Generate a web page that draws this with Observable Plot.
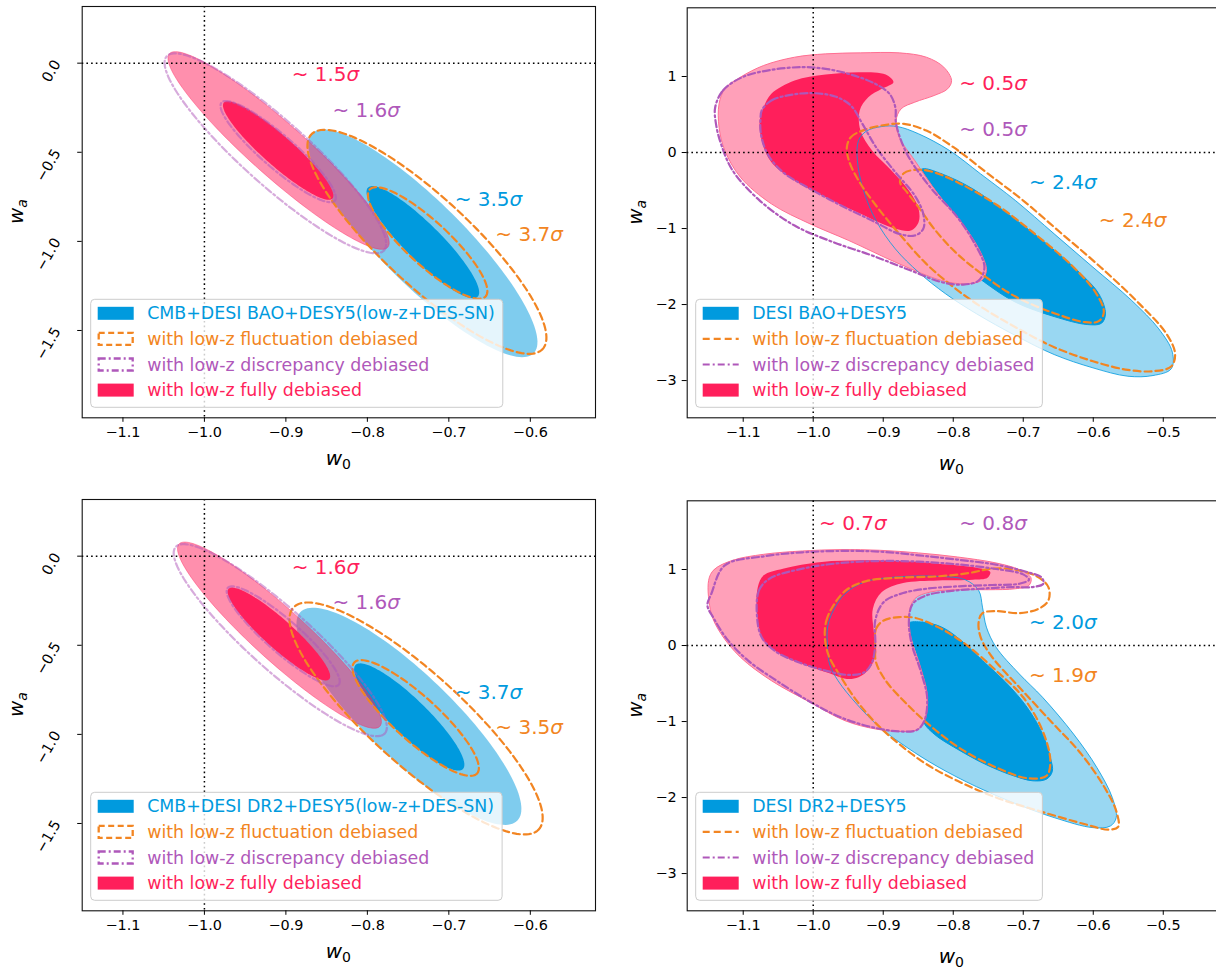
<!DOCTYPE html>
<html>
<head>
<meta charset="utf-8">
<script src="https://cdn.jsdelivr.net/npm/d3@7"></script>
<script src="https://cdn.jsdelivr.net/npm/@observablehq/plot@0.6"></script>
<style>
html,body{margin:0;padding:0;background:#fff;}
body{width:1216px;height:969px;overflow:hidden;position:relative;font-family:"DejaVu Sans",sans-serif;}
.panel{position:absolute;width:610px;}
.panel svg{display:block;max-width:none !important;}
</style>
</head>
<body>
<div id="p1" class="panel" style="left:0px;top:0px"></div>
<div id="p2" class="panel" style="left:608px;top:0px"></div>
<div id="p3" class="panel" style="left:0px;top:493.3px"></div>
<div id="p4" class="panel" style="left:608px;top:493.3px"></div>
<script>
// ---------------- DATA ----------------
const X_TICKS_A = [-1.1, -1.0, -0.9, -0.8, -0.7, -0.6];
const Y_TICKS_A = [0.0, -0.5, -1.0, -1.5];
const X_TICKS_B = [-1.1, -1.0, -0.9, -0.8, -0.7, -0.6, -0.5];
const Y_TICKS_B = [1, 0, -1, -2, -3];
const X_DOMAIN_A = [-1.15, -0.52];
const Y_DOMAIN_A = [-1.99, 0.318];
const X_DOMAIN_B = [-1.18, -0.4211];
const Y_DOMAIN_B = [-3.49, 1.904];

const LEGEND_TITLES = ["CMB+DESI BAO+DESY5(low-z+DES-SN)", "DESI BAO+DESY5", "CMB+DESI DR2+DESY5(low-z+DES-SN)", "DESI DR2+DESY5"];
const LEGEND_ROWS = ["with low-z fluctuation debiased", "with low-z discrepancy debiased", "with low-z fully debiased"];

// Gaussian-like ellipse contours: [center w0, center wa, semi-diameter A (w0, wa), conjugate semi-diameter B (w0, wa)]
const P1_ELLIPSES = {
  blueOuter:   [-0.7319, -1.0108, 0.1343, -0.6237, 0.0418, 0.1389],
  blueInner:   [-0.7319, -1.0043, 0.0667, -0.3086, 0.0181, 0.0606],
  orangeOuter: [-0.7269, -1.0024, 0.1402, -0.6097, 0.0431, 0.1530],
  orangeInner: [-0.7260, -1.0090, 0.0702, -0.3039, 0.0211, 0.0754],
  purpleOuter: [-0.9129, -0.5059, 0.1324, -0.5489, 0.0311, 0.1158],
  purpleInner: [-0.9095, -0.4965, 0.0690, -0.2777, 0.0157, 0.0600],
  pinkOuter:   [-0.9090, -0.4900, 0.1333, -0.5461, 0.0258, 0.0971],
  pinkInner:   [-0.9095, -0.4900, 0.0662, -0.2712, 0.0144, 0.0544]
};
const P3_ELLIPSES = {
  blueOuter:   [-0.7490, -0.8986, 0.1314, -0.5919, 0.0423, 0.1449],
  blueInner:   [-0.7486, -0.9024, 0.0652, -0.2946, 0.0180, 0.0613],
  orangeOuter: [-0.7402, -0.9108, 0.1488, -0.6303, 0.0447, 0.1627],
  orangeInner: [-0.7407, -0.9080, 0.0745, -0.3151, 0.0216, 0.0789],
  purpleOuter: [-0.9069, -0.4713, 0.1274, -0.5274, 0.0297, 0.1107],
  purpleInner: [-0.9033, -0.4498, 0.0676, -0.2740, 0.0157, 0.0598],
  pinkOuter:   [-0.9079, -0.4432, 0.1226, -0.5143, 0.0250, 0.0920],
  pinkInner:   [-0.9086, -0.4367, 0.0614, -0.2553, 0.0139, 0.0514]
};

// Irregular contours, outline vertices [w0, wa]
const P2_PINK_OUTER = [[-1.1345,0.640],[-1.1262,0.838],[-1.104,0.991],[-1.0708,1.145],[-1.0266,1.254],[-0.9823,1.298],[-0.9325,1.311],[-0.8771,1.311],[-0.8384,1.254],[-0.8135,1.123],[-0.8024,0.947],[-0.808,0.838],[-0.8273,0.750],[-0.855,0.662],[-0.8744,0.575],[-0.8816,0.421],[-0.8771,0.202],[-0.855,-0.105],[-0.8218,-0.544],[-0.7831,-0.982],[-0.7598,-1.333],[-0.7526,-1.553],[-0.7598,-1.684],[-0.7831,-1.728],[-0.8163,-1.684],[-0.8771,-1.465],[-0.9491,-1.158],[-1.0044,-0.939],[-1.0598,-0.675],[-1.104,-0.325],[-1.1262,0.026],[-1.1345,0.333]];
const P2_PINK_INNER = [[-1.0708,0.596],[-1.0598,0.772],[-1.0266,0.947],[-0.9823,1.026],[-0.9325,1.057],[-0.8965,1.026],[-0.8854,0.925],[-0.902,0.838],[-0.9214,0.728],[-0.9336,0.553],[-0.9325,0.289],[-0.9159,0.026],[-0.8882,-0.237],[-0.8633,-0.500],[-0.8495,-0.741],[-0.8495,-0.917],[-0.8605,-1.026],[-0.8827,-1.004],[-0.9325,-0.807],[-0.9823,-0.588],[-1.0266,-0.368],[-1.0598,-0.127],[-1.0736,0.158],[-1.0764,0.421]];
const P2_PURPLE_OUTER = [[-1.14,0.596],[-1.1289,0.816],[-1.1013,0.991],[-1.0598,1.088],[-1.0155,1.123],[-0.9823,1.101],[-0.9463,1.026],[-0.9131,0.912],[-0.891,0.772],[-0.8827,0.596],[-0.8816,0.377],[-0.8661,-0.018],[-0.8329,-0.456],[-0.7941,-0.851],[-0.7692,-1.202],[-0.7554,-1.509],[-0.7637,-1.684],[-0.7858,-1.737],[-0.8163,-1.706],[-0.8605,-1.553],[-0.9159,-1.355],[-0.9712,-1.180],[-1.0266,-0.961],[-1.0764,-0.632],[-1.1151,-0.237],[-1.1317,0.114],[-1.1389,0.377]];
const P2_PURPLE_INNER = [[-1.0736,0.553],[-1.0598,0.684],[-1.0321,0.759],[-1.0,0.781],[-0.9685,0.737],[-0.9463,0.618],[-0.9297,0.377],[-0.9103,0.070],[-0.8827,-0.259],[-0.855,-0.566],[-0.8428,-0.807],[-0.8428,-1.004],[-0.855,-1.092],[-0.8771,-1.070],[-0.9159,-0.895],[-0.9602,-0.697],[-1.0044,-0.478],[-1.0432,-0.259],[-1.0653,-0.018],[-1.0747,0.246],[-1.0753,0.443]];
const P2_BLUE_OUTER = [[-0.9353,0.158],[-0.9242,0.281],[-0.902,0.342],[-0.8799,0.342],[-0.8495,0.246],[-0.8052,0.026],[-0.7609,-0.281],[-0.7111,-0.632],[-0.6558,-1.070],[-0.6004,-1.509],[-0.5451,-1.947],[-0.5064,-2.320],[-0.487,-2.627],[-0.4887,-2.846],[-0.5147,-2.934],[-0.5506,-2.943],[-0.6004,-2.833],[-0.6558,-2.658],[-0.7111,-2.408],[-0.7665,-2.123],[-0.8107,-1.860],[-0.8495,-1.575],[-0.8827,-1.268],[-0.9103,-0.895],[-0.9281,-0.500],[-0.9369,-0.105]];
const P2_BLUE_INNER = [[-0.8439,-0.215],[-0.8163,-0.281],[-0.772,-0.478],[-0.7222,-0.807],[-0.6724,-1.158],[-0.6226,-1.553],[-0.592,-1.860],[-0.5826,-2.123],[-0.5882,-2.246],[-0.6087,-2.263],[-0.6558,-2.158],[-0.7111,-1.969],[-0.7554,-1.706],[-0.7941,-1.421],[-0.8218,-1.136],[-0.8412,-0.807],[-0.8495,-0.500],[-0.8506,-0.281]];
const P2_ORANGE_OUTER = [[-0.9519,0.070],[-0.9463,0.202],[-0.927,0.298],[-0.8937,0.368],[-0.8705,0.377],[-0.8384,0.289],[-0.7997,0.070],[-0.7499,-0.281],[-0.7001,-0.632],[-0.6447,-1.070],[-0.5894,-1.509],[-0.534,-1.991],[-0.4953,-2.386],[-0.4831,-2.649],[-0.4887,-2.816],[-0.5147,-2.877],[-0.5506,-2.860],[-0.6004,-2.746],[-0.6558,-2.561],[-0.7111,-2.298],[-0.7609,-2.026],[-0.8024,-1.750],[-0.8384,-1.465],[-0.8771,-1.070],[-0.9103,-0.697],[-0.9353,-0.368],[-0.9491,-0.105]];
const P2_ORANGE_INNER = [[-0.876,-0.390],[-0.8705,-0.272],[-0.855,-0.228],[-0.8329,-0.246],[-0.7941,-0.390],[-0.7388,-0.684],[-0.6835,-1.070],[-0.6281,-1.509],[-0.596,-1.851],[-0.5849,-2.101],[-0.5921,-2.219],[-0.6115,-2.232],[-0.6558,-2.114],[-0.7111,-1.895],[-0.7582,-1.605],[-0.7969,-1.311],[-0.8273,-1.004],[-0.8495,-0.719],[-0.8661,-0.522]];

const P4_PINK_OUTER = [[-1.1494,0.857],[-1.1417,0.998],[-1.1151,1.121],[-1.0708,1.200],[-1.0155,1.244],[-0.9602,1.262],[-0.9048,1.253],[-0.8495,1.218],[-0.7941,1.165],[-0.7388,1.086],[-0.7056,0.998],[-0.689,0.892],[-0.6918,0.791],[-0.7111,0.747],[-0.7499,0.734],[-0.7941,0.734],[-0.8329,0.703],[-0.855,0.615],[-0.8633,0.418],[-0.8605,0.110],[-0.8467,-0.286],[-0.8373,-0.637],[-0.8395,-0.945],[-0.8495,-1.099],[-0.8716,-1.130],[-0.9103,-1.099],[-0.9546,-0.989],[-1.0044,-0.747],[-1.0598,-0.462],[-1.104,-0.154],[-1.1317,0.154],[-1.1455,0.418]];
const P4_PINK_INNER = [[-1.0802,0.418],[-1.0791,0.769],[-1.0708,0.923],[-1.0432,1.011],[-0.9878,1.099],[-0.9325,1.121],[-0.8771,1.112],[-0.8218,1.077],[-0.7665,1.024],[-0.7471,0.967],[-0.751,0.892],[-0.772,0.866],[-0.8218,0.857],[-0.8716,0.822],[-0.902,0.703],[-0.9148,0.484],[-0.9131,0.154],[-0.9103,-0.110],[-0.9203,-0.308],[-0.9353,-0.418],[-0.9519,-0.440],[-0.9768,-0.365],[-1.01,-0.264],[-1.0432,-0.132],[-1.0708,0.066]];
const P4_PURPLE_OUTER = [[-1.1511,0.527],[-1.1455,0.681],[-1.1262,1.055],[-1.0708,1.174],[-1.0155,1.226],[-0.9602,1.244],[-0.9048,1.235],[-0.8495,1.187],[-0.7941,1.130],[-0.7388,1.064],[-0.6945,0.967],[-0.6735,0.892],[-0.6713,0.813],[-0.6862,0.769],[-0.7167,0.769],[-0.7609,0.747],[-0.8052,0.716],[-0.8384,0.659],[-0.8578,0.549],[-0.8633,0.330],[-0.8594,0.022],[-0.8467,-0.330],[-0.8373,-0.681],[-0.8412,-0.989],[-0.8522,-1.112],[-0.8771,-1.130],[-0.9103,-1.086],[-0.9546,-0.967],[-0.9989,-0.769],[-1.0487,-0.484],[-1.093,-0.198],[-1.1234,0.088],[-1.1417,0.352]];
const P4_PURPLE_INNER = [[-1.0802,0.374],[-1.0775,0.725],[-1.0625,0.879],[-1.0155,1.011],[-0.9602,1.086],[-0.9048,1.112],[-0.8495,1.103],[-0.7941,1.068],[-0.7388,1.007],[-0.7001,0.936],[-0.6918,0.866],[-0.7056,0.813],[-0.7444,0.796],[-0.7941,0.778],[-0.8384,0.747],[-0.8716,0.690],[-0.8993,0.571],[-0.9114,0.330],[-0.9114,0.022],[-0.9159,-0.220],[-0.9270,-0.352],[-0.9491,-0.387],[-0.9823,-0.330],[-1.0210,-0.220],[-1.0542,-0.075],[-1.0736,0.110]];
const P4_BLUE_OUTER = [[-0.9795,-0.022],[-0.9795,0.242],[-0.9712,0.462],[-0.9546,0.681],[-0.9270,0.835],[-0.8827,0.901],[-0.8218,0.910],[-0.7831,0.866],[-0.7637,0.725],[-0.7582,0.505],[-0.7526,0.242],[-0.7388,-0.022],[-0.7056,-0.374],[-0.6724,-0.681],[-0.6281,-1.165],[-0.5949,-1.604],[-0.5728,-2.000],[-0.5672,-2.264],[-0.5755,-2.374],[-0.6004,-2.396],[-0.6558,-2.264],[-0.7111,-2.079],[-0.7665,-1.859],[-0.8218,-1.596],[-0.8661,-1.341],[-0.9048,-1.077],[-0.9380,-0.769],[-0.9646,-0.462],[-0.9768,-0.242]];
const P4_BLUE_INNER = [[-0.8633,0.295],[-0.8439,0.308],[-0.8163,0.242],[-0.7886,0.066],[-0.7582,-0.198],[-0.7250,-0.484],[-0.6945,-0.813],[-0.6724,-1.165],[-0.6613,-1.473],[-0.6585,-1.657],[-0.6668,-1.758],[-0.6862,-1.780],[-0.7139,-1.714],[-0.7526,-1.569],[-0.7941,-1.363],[-0.8273,-1.165],[-0.8428,-0.989],[-0.8384,-0.725],[-0.8439,-0.374],[-0.8550,-0.022],[-0.8627,0.198]];
const P4_ORANGE_OUTER = [[-0.9834,0.110],[-0.9812,0.330],[-0.9712,0.527],[-0.9535,0.725],[-0.9242,0.848],[-0.8771,0.892],[-0.8218,0.910],[-0.7775,0.954],[-0.7443,1.011],[-0.7111,0.998],[-0.6807,0.910],[-0.6641,0.769],[-0.6641,0.593],[-0.6779,0.484],[-0.7056,0.426],[-0.7388,0.453],[-0.7582,0.426],[-0.7637,0.308],[-0.7609,0.110],[-0.7443,-0.154],[-0.7056,-0.549],[-0.6613,-0.989],[-0.6170,-1.429],[-0.5838,-1.868],[-0.5672,-2.176],[-0.5645,-2.387],[-0.5783,-2.422],[-0.6115,-2.352],[-0.6779,-2.176],[-0.7388,-2.000],[-0.7941,-1.780],[-0.8384,-1.560],[-0.8771,-1.297],[-0.9103,-1.024],[-0.9380,-0.725],[-0.9602,-0.418],[-0.9779,-0.132]];
const P4_ORANGE_INNER = [[-0.9115,-0.022],[-0.9103,0.220],[-0.8993,0.330],[-0.8771,0.374],[-0.855,0.365],[-0.8218,0.242],[-0.7831,0.022],[-0.7388,-0.330],[-0.7001,-0.681],[-0.6724,-1.121],[-0.6613,-1.516],[-0.6668,-1.714],[-0.6945,-1.745],[-0.7388,-1.604],[-0.7886,-1.363],[-0.8329,-1.055],[-0.8688,-0.747],[-0.8965,-0.462],[-0.9103,-0.220]];

// annotations: [text, w0, wa, series]
const P1_NOTES = [["~ 1.5σ", -0.8929, -0.0636, "pink"], ["~ 1.6σ", -0.8429, -0.2656, "purple"], ["~ 3.5σ", -0.6929, -0.7668, "blue"], ["~ 3.7σ", -0.6429, -0.9632, "orange"]];
const P2_NOTES = [["~ 0.5σ", -0.7914, 0.9035, "pink"], ["~ 0.5σ", -0.7914, 0.3026, "purple"], ["~ 2.4σ", -0.6918, -0.3904, "blue"], ["~ 2.4σ", -0.5921, -0.8947, "orange"]];
const P3_NOTES = [["~ 1.6σ", -0.8929, -0.0636, "pink"], ["~ 1.6σ", -0.8429, -0.2618, "purple"], ["~ 3.7σ", -0.6929, -0.7630, "blue"], ["~ 3.5σ", -0.6429, -0.9613, "orange"]];
const P4_NOTES = [["~ 0.7σ", -0.9917, 1.6044, "pink"], ["~ 0.8σ", -0.7914, 1.6044, "purple"], ["~ 2.0σ", -0.6918, 0.3077, "blue"], ["~ 1.9σ", -0.6918, -0.3956, "orange"]];

// ---------------- STYLE / LAYOUT ----------------
const C = {blue: "#009ADE", orange: "#F28522", purple: "#AF58BA", pink: "#FF1F5B"};
const FONT = "DejaVu Sans";
const TICK_FS = 14.4;
const fmt1 = d3.format(".1f"), fmtInt = d3.format("d");
const LAYOUT_A = {width: 608, height: 480, marginLeft: 81.7, marginRight: 13, marginTop: 6, marginBottom: 62.7};
const LAYOUT_B = {width: 610, height: 480, marginLeft: 78.7, marginRight: 0, marginTop: 7.3, marginBottom: 62.7};

function ellipsePts(e, n = 140) {
  const [cx, cy, ax, ay, bx, by] = e;
  return d3.range(n).map(i => {
    const t = 2 * Math.PI * i / n;
    return {x: cx + ax * Math.cos(t) + bx * Math.sin(t), y: cy + ay * Math.cos(t) + by * Math.sin(t)};
  });
}
const polyPts = p => p.map(([x, y]) => ({x, y}));

function contourMarks(s, kind) {
  const curve = kind === "A" ? "linear-closed" : "catmull-rom-closed";
  const L = (pts, o) => Plot.line(pts, {x: "x", y: "y", curve, ...o});
  const dash = {fill: "none", stroke: C.orange, strokeWidth: 2.2, strokeDasharray: "7,4"};
  const dd = {fill: "none", stroke: C.purple, strokeWidth: 2.2, strokeDasharray: "7,3,2,3"};
  if (kind === "A") {
    return [
      L(s.blueOuter, {fill: C.blue, fillOpacity: 0.5, stroke: "none"}),
      L(s.blueInner, {fill: C.blue, stroke: "none"}),
      L(s.pinkOuter, {fill: C.pink, fillOpacity: 0.5, stroke: C.pink, strokeOpacity: 0.4, strokeWidth: 1}),
      L(s.pinkInner, {fill: C.pink, stroke: "none"}),
      L(s.orangeOuter, dash), L(s.orangeInner, dash),
      L(s.purpleOuter, {...dd, strokeOpacity: 0.5}), L(s.purpleInner, {...dd, strokeOpacity: 0.55})
    ];
  }
  return [
    L(s.blueOuter, {fill: C.blue, fillOpacity: 0.4, stroke: "none"}),
    L(s.blueInner, {fill: C.blue, stroke: C.blue, strokeWidth: 1}),
    L(s.pinkOuter, {fill: "#FFA0B9", stroke: "#FF6F92", strokeWidth: 1}),
    L(s.pinkInner, {fill: C.pink, stroke: "none"}),
    L(s.blueOuter, {fill: "none", stroke: C.blue, strokeOpacity: 0.8, strokeWidth: 1}),
    L(s.orangeOuter, dash), L(s.orangeInner, dash),
    L(s.purpleOuter, dd), L(s.purpleInner, dd)
  ];
}

function render(id, kind, set, notes, title) {
  const lay = kind === "A" ? LAYOUT_A : LAYOUT_B;
  const xTicks = kind === "A" ? X_TICKS_A : X_TICKS_B;
  const marks = [
    ...contourMarks(set, kind),
    Plot.ruleX([-1], {stroke: "black", strokeWidth: 1.5, strokeDasharray: "1.6,3.1"}),
    Plot.ruleY([0], {stroke: "black", strokeWidth: 1.5, strokeDasharray: "1.6,3.1"}),
    ...notes.map(n => Plot.text([n], {x: d => d[1], y: d => d[2], text: d => d[0], fill: C[n[3]], fontSize: 20, textAnchor: "start"})),
    Plot.frame({stroke: "#111", strokeWidth: 1.1}),
    Plot.axisX({ticks: xTicks, tickSize: 4.5, tickFormat: () => "", label: null}),
    Plot.text(xTicks, {x: d => d, text: d => fmt1(d), frameAnchor: "bottom", dy: 19, fontSize: TICK_FS, fill: "black", textAnchor: "middle"})
  ];
  if (kind === "A") {
    marks.push(Plot.axisY({ticks: Y_TICKS_A, tickSize: 4.5, tickFormat: () => "", label: null}));
    marks.push(Plot.text(Y_TICKS_A, {y: d => d, text: d => fmt1(d), frameAnchor: "left", dx: -25, dy: -2, rotate: -60, textAnchor: "end", fontSize: TICK_FS, fill: "black"}));
  } else {
    marks.push(Plot.axisY({ticks: Y_TICKS_B, tickSize: 5, tickFormat: () => "", label: null}));
    marks.push(Plot.text(Y_TICKS_B, {y: d => d, text: d => fmtInt(d), frameAnchor: "left", dx: -10.5, textAnchor: "end", fontSize: TICK_FS, fill: "black"}));
  }
  const svg = Plot.plot({
    ...lay,
    x: {domain: kind === "A" ? X_DOMAIN_A : X_DOMAIN_B, axis: null},
    y: {domain: kind === "A" ? Y_DOMAIN_A : Y_DOMAIN_B, axis: null},
    style: {fontFamily: FONT, color: "black", background: "white", overflow: "hidden"},
    marks
  });
  document.getElementById(id).appendChild(svg);
  const sel = d3.select(svg);

  // italic sigma
  sel.selectAll("text").each(function () {
    const s = this.textContent;
    const i = s.indexOf("σ");
    if (i >= 0) {
      const t = d3.select(this);
      t.text(null);
      t.append("tspan").text(s.slice(0, i));
      t.append("tspan").attr("font-style", "italic").text("σ");
    }
  });

  const fx0 = lay.marginLeft, fx1 = Math.min(lay.width - lay.marginRight, 608);
  const fy0 = lay.marginTop, fy1 = lay.height - lay.marginBottom;

  // legend
  const g = sel.append("g").attr("font-family", FONT).attr("text-anchor", "start");
  const h = 108, bx = fx0 + 9, by = fy1 - 10 - h;
  const tx = bx + 56.5;
  const rows = [title, ...LEGEND_ROWS];
  const cols = [C.blue, C.orange, C.purple, C.pink];
  const texts = rows.map((r, i) => g.append("text")
    .attr("x", tx).attr("y", by + 14 + i * 25.6)
    .attr("text-anchor", "start")
    .attr("dominant-baseline", "central")
    .style("font-size", "17.4px")
    .attr("fill", cols[i]).text(r));
  const maxW = d3.max(texts, t => t.node().getComputedTextLength());
  g.insert("rect", ":first-child")
    .attr("x", bx).attr("y", by).attr("width", tx - bx + maxW + 8).attr("height", h)
    .attr("rx", 4).attr("fill", "white").attr("fill-opacity", 0.8)
    .attr("stroke", "#cccccc").attr("stroke-width", 1);
  const hx = bx + 7, hw = 36, hh = 13;
  const cy = i => by + 14 + i * 25.6;
  g.append("rect").attr("x", hx).attr("y", cy(0) - hh / 2).attr("width", hw).attr("height", hh).attr("fill", C.blue);
  g.append("rect").attr("x", hx).attr("y", cy(3) - hh / 2).attr("width", hw).attr("height", hh).attr("fill", C.pink);
  if (kind === "A") {
    g.append("rect").attr("x", hx + 1).attr("y", cy(1) - 6).attr("width", hw - 2).attr("height", 12)
      .attr("fill", "none").attr("stroke", C.orange).attr("stroke-width", 2.3).attr("stroke-dasharray", "6,3.5");
    g.append("rect").attr("x", hx + 1).attr("y", cy(2) - 6).attr("width", hw - 2).attr("height", 12)
      .attr("fill", "none").attr("stroke", C.purple).attr("stroke-width", 2.3).attr("stroke-dasharray", "7,3,2,3");
  } else {
    g.append("line").attr("x1", hx).attr("x2", hx + hw).attr("y1", cy(1)).attr("y2", cy(1))
      .attr("stroke", C.orange).attr("stroke-width", 2.2).attr("stroke-dasharray", "7,4");
    g.append("line").attr("x1", hx).attr("x2", hx + hw).attr("y1", cy(2)).attr("y2", cy(2))
      .attr("stroke", C.purple).attr("stroke-width", 2.2).attr("stroke-dasharray", "7,3,2,3");
  }

  // axis labels
  const xl = sel.append("text").attr("x", (fx0 + fx1) / 2).attr("y", kind === "A" ? 465 : 470)
    .attr("text-anchor", "middle").attr("font-family", FONT).style("font-size", "20px").attr("fill", "black");
  xl.append("tspan").attr("font-style", "italic").text("w");
  xl.append("tspan").style("font-size", "14px").attr("dy", 4).text("0");
  const yl = sel.append("text")
    .attr("transform", `translate(${kind === "A" ? 23.3 : 33.7},${(fy0 + fy1) / 2}) rotate(-90)`)
    .attr("text-anchor", "middle").attr("font-family", FONT).style("font-size", "20px").attr("fill", "black");
  yl.append("tspan").attr("font-style", "italic").text("w");
  yl.append("tspan").attr("font-style", "italic").style("font-size", "14px").attr("dy", 4).text("a");
}

const setFromEllipses = E => Object.fromEntries(Object.entries(E).map(([k, v]) => [k, ellipsePts(v)]));
const P2_SET = {
  blueOuter: polyPts(P2_BLUE_OUTER), blueInner: polyPts(P2_BLUE_INNER),
  orangeOuter: polyPts(P2_ORANGE_OUTER), orangeInner: polyPts(P2_ORANGE_INNER),
  purpleOuter: polyPts(P2_PURPLE_OUTER), purpleInner: polyPts(P2_PURPLE_INNER),
  pinkOuter: polyPts(P2_PINK_OUTER), pinkInner: polyPts(P2_PINK_INNER)
};
const P4_SET = {
  blueOuter: polyPts(P4_BLUE_OUTER), blueInner: polyPts(P4_BLUE_INNER),
  orangeOuter: polyPts(P4_ORANGE_OUTER), orangeInner: polyPts(P4_ORANGE_INNER),
  purpleOuter: polyPts(P4_PURPLE_OUTER), purpleInner: polyPts(P4_PURPLE_INNER),
  pinkOuter: polyPts(P4_PINK_OUTER), pinkInner: polyPts(P4_PINK_INNER)
};

render("p1", "A", setFromEllipses(P1_ELLIPSES), P1_NOTES, LEGEND_TITLES[0]);
render("p2", "B", P2_SET, P2_NOTES, LEGEND_TITLES[1]);
render("p3", "A", setFromEllipses(P3_ELLIPSES), P3_NOTES, LEGEND_TITLES[2]);
render("p4", "B", P4_SET, P4_NOTES, LEGEND_TITLES[3]);
</script>
</body>
</html>
